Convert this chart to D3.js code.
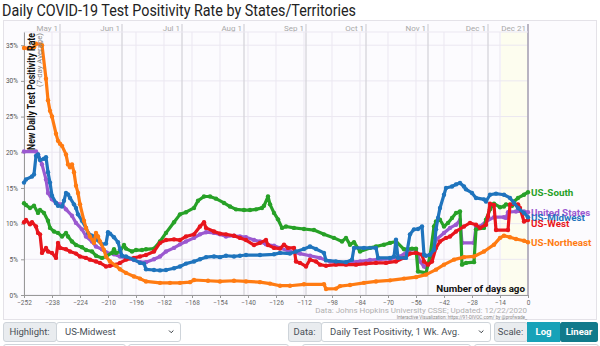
<!DOCTYPE html>
<html><head><meta charset="utf-8">
<script src="https://cdn.jsdelivr.net/npm/d3@7"></script>
<style>
html,body{margin:0;padding:0;background:#fff;}
svg{display:block;font-family:Roboto,"Noto Sans",sans-serif;}
</style></head>
<body><svg id="c" width="600" height="346"></svg>
<script>
// ---- data (days ago, % positivity, 7-day avg) ----
const seriesNames = ["United States","US-South","US-West","US-Midwest","US-Northeast"];
const seriesColors = ["#9b59d0","#27a127","#e8151c","#1f74bd","#ff7b12"];
const xTicks = d3.range(-252, 1, 14);
const yTicks = [0,5,10,15,20,25,30,35];
const monthLabels = ["May 1","Jun 1","Jul 1","Aug 1","Sep 1","Oct 1","Nov 1","Dec 1","Dec 21"];
const monthDays = [-234,-203,-173,-142,-111,-81,-50,-20,0];

const usNortheast = [[-252,34.6],[-249,34.6],[-247,34.7],[-246,35.2],[-244,35.1],[-243,35.0],[-241,30.3],[-240,27.3],[-239,25.8],[-238,25.0],[-236,22.6],[-235,21.6],[-234,21.2],[-233,20.9],[-231,19.7],[-230,18.3],[-229,17.9],[-228,18.3],[-227,17.2],[-226,15.3],[-225,14.3],[-224,12.7],[-222,10.4],[-221,9.4],[-219,8.2],[-217,7.3],[-216,8.7],[-215,8.2],[-214,7.5],[-212,6.3],[-211,5.4],[-209,4.7],[-206,4.1],[-204,3.6],[-201,3.1],[-197,2.6],[-194,2.3],[-191,1.9],[-184,1.7],[-179,1.7],[-174,1.7],[-169,1.8],[-167,2.1],[-160,2.0],[-154,1.9],[-147,2.0],[-141,1.9],[-134,1.8],[-129,1.6],[-124,1.3],[-119,1.3],[-112,1.5],[-102,1.5],[-101,0.85],[-96,0.9],[-94,1.25],[-89,1.4],[-82,1.7],[-76,1.9],[-69,2.05],[-62,2.3],[-56,2.5],[-51,2.85],[-46,3.55],[-42,4.25],[-37,4.95],[-32,5.3],[-27,5.4],[-22,6.1],[-17,7.05],[-14,8.0],[-12,8.3],[-9,8.1],[-6,7.85],[-2,7.6],[0,7.4]];

const unitedStates = [[-252,20.1],[-246,20.1],[-245,19.7],[-243,18.3],[-241,16.2],[-240,14.3],[-238,13.4],[-236,12.9],[-233,12.7],[-231,12.0],[-228,11.1],[-226,10.1],[-223,9.2],[-221,8.2],[-218,7.5],[-216,6.8],[-213,6.4],[-211,6.0],[-207,5.7],[-204,5.4],[-201,5.2],[-197,4.9],[-194,4.6],[-191,4.6],[-187,5.0],[-184,5.4],[-181,6.1],[-177,6.6],[-174,7.1],[-171,7.5],[-167,8.0],[-164,8.5],[-161,8.8],[-157,8.7],[-154,8.5],[-151,8.2],[-147,8.3],[-144,8.2],[-141,8.1],[-137,7.7],[-134,7.5],[-131,7.1],[-127,6.9],[-124,6.6],[-119,6.1],[-114,5.8],[-109,5.5],[-104,5.2],[-99,4.7],[-94,4.5],[-89,4.6],[-84,4.7],[-79,4.9],[-74,5.0],[-69,5.05],[-64,5.4],[-59,6.35],[-56,6.35],[-54,4.7],[-52,4.0],[-51,3.9],[-49,4.7],[-47,6.6],[-46,7.75],[-42,8.7],[-39,9.4],[-36,9.85],[-34,10.5],[-33,7.3],[-27,7.3],[-26,9.6],[-24,9.6],[-21,10.3],[-17,10.9],[-12,10.9],[-11,10.8],[-10,11.6],[-6,11.7],[-2,11.7],[0,11.6]];

const usMidwest = [[-252,15.75],[-251,16.2],[-248,16.6],[-247,16.9],[-246,19.5],[-245,19.7],[-244,18.9],[-242,19.1],[-241,19.3],[-240,17.2],[-239,15.75],[-238,13.9],[-236,12.9],[-235,12.5],[-233,12.4],[-232,13.2],[-231,14.3],[-230,14.1],[-229,13.6],[-227,12.7],[-226,12.2],[-225,11.3],[-223,10.4],[-221,9.4],[-220,8.7],[-218,8.3],[-216,7.8],[-213,7.1],[-211,7.2],[-210,8.8],[-209,8.6],[-207,8.1],[-205,7.4],[-204,6.4],[-203,5.5],[-201,5.4],[-197,4.95],[-194,4.5],[-192,4.4],[-191,3.6],[-187,3.5],[-184,3.45],[-181,3.5],[-177,3.75],[-174,4.0],[-171,4.4],[-167,4.7],[-164,5.0],[-161,5.3],[-157,5.4],[-154,5.3],[-151,5.5],[-147,5.4],[-144,5.5],[-141,5.6],[-134,5.6],[-127,5.7],[-124,5.9],[-119,5.8],[-116,6.1],[-112,6.45],[-109,6.8],[-106,6.45],[-102,5.9],[-101,4.85],[-96,4.7],[-91,4.6],[-88,4.95],[-87,6.6],[-82,6.6],[-76,6.6],[-75,5.2],[-69,5.2],[-67,5.4],[-66,7.75],[-65,5.2],[-61,5.2],[-59,8.5],[-57,9.2],[-55,9.25],[-53,9.6],[-52,5.65],[-51,5.5],[-49,5.65],[-47,6.35],[-46,9.2],[-45,10.8],[-44,12.2],[-42,14.05],[-41,15.0],[-38,15.2],[-36,15.5],[-34,15.7],[-32,15.2],[-31,14.8],[-28,14.3],[-26,13.6],[-22,13.4],[-21,13.1],[-19,14.05],[-16,14.2],[-12,14.05],[-9,13.6],[-7,12.9],[-5,12.2],[-2,11.5],[0,10.9]];

const usSouth = [[-252,12.85],[-251,12.6],[-249,12.2],[-247,12.5],[-245,11.5],[-244,11.9],[-242,11.5],[-240,10.4],[-239,9.4],[-237,8.9],[-235,8.7],[-233,8.2],[-231,8.7],[-230,8.2],[-228,7.5],[-226,7.0],[-223,6.7],[-221,6.3],[-218,6.1],[-216,5.5],[-213,5.2],[-211,5.4],[-208,5.9],[-207,6.4],[-206,5.9],[-204,6.1],[-202,7.0],[-201,6.5],[-198,6.1],[-196,6.3],[-193,6.3],[-191,6.4],[-187,6.5],[-184,7.5],[-181,8.7],[-177,10.2],[-174,11.3],[-171,11.6],[-167,12.2],[-165,13.2],[-162,13.8],[-159,13.8],[-156,13.5],[-152,12.9],[-149,12.4],[-146,12.0],[-142,11.9],[-139,11.9],[-136,12.0],[-133,12.2],[-132,12.5],[-130,13.8],[-129,12.7],[-127,11.5],[-125,10.6],[-123,9.4],[-121,9.6],[-117,9.4],[-112,9.25],[-107,9.1],[-102,8.5],[-97,8.0],[-93,7.5],[-91,8.0],[-89,7.05],[-87,7.4],[-84,6.1],[-79,6.6],[-76,6.8],[-72,7.05],[-69,7.3],[-66,7.5],[-62,6.4],[-58,6.5],[-56,6.5],[-55,3.3],[-51,3.1],[-49,5.4],[-47,9.6],[-46,10.3],[-44,10.55],[-42,9.6],[-40,10.1],[-38,10.8],[-36,11.5],[-34,11.7],[-33,4.25],[-31,4.5],[-27,4.6],[-26,9.2],[-22,9.4],[-21,10.55],[-19,12.0],[-17,12.8],[-14,12.3],[-12,12.4],[-11,12.7],[-8,12.5],[-7,13.1],[-5,13.6],[-2,14.05],[0,14.4]];

const usWest = [[-252,10.2],[-251,10.5],[-249,9.9],[-248,10.2],[-246,9.6],[-245,8.7],[-244,8.5],[-243,5.9],[-241,6.6],[-240,6.1],[-238,5.9],[-236,5.2],[-235,7.3],[-234,6.6],[-231,6.4],[-229,6.1],[-226,5.8],[-224,5.4],[-221,5.2],[-219,4.95],[-216,4.7],[-214,4.5],[-211,4.0],[-209,4.1],[-206,4.25],[-204,4.5],[-201,4.95],[-197,5.2],[-194,5.4],[-191,5.6],[-187,6.1],[-184,7.3],[-181,7.7],[-177,7.8],[-174,7.7],[-171,8.2],[-167,8.5],[-164,9.6],[-162,10.2],[-161,9.4],[-157,8.9],[-154,8.6],[-151,8.5],[-147,8.3],[-144,8.0],[-141,7.7],[-137,7.0],[-134,7.3],[-131,7.7],[-130,7.0],[-127,6.6],[-124,6.5],[-122,7.05],[-120,6.6],[-117,6.6],[-116,4.7],[-114,4.5],[-111,4.0],[-109,4.95],[-106,4.7],[-104,4.25],[-101,4.1],[-96,4.25],[-91,4.25],[-86,4.25],[-81,4.4],[-76,4.5],[-71,4.5],[-66,4.7],[-62,5.2],[-59,5.8],[-56,5.9],[-53,5.65],[-52,4.7],[-50,4.25],[-48,4.7],[-46,6.6],[-44,7.5],[-41,8.0],[-39,8.2],[-36,8.9],[-32,9.6],[-29,10.1],[-26,9.85],[-24,9.4],[-21,9.85],[-20,11.0],[-19,12.8],[-17,12.6],[-16,9.1],[-10,9.1],[-9,12.7],[-5,12.7],[-4,12.2],[-2,10.3],[0,10.5]];

const seriesData = [unitedStates, usSouth, usWest, usMidwest, usNortheast];

// ---- drawing ----
const svg = d3.select("#c");
const X0 = 24, X1 = 528, YTOP = 32, YBOT = 295;
const x = d3.scaleLinear().domain([-252, 0]).range([X0, X1]);
const y = d3.scaleLinear().domain([0, 36.85]).range([YBOT, YTOP]);

svg.append("text").attr("x", 2).attr("y", 15.5).attr("font-size", 16.5).attr("fill", "#222")
  .attr("textLength", 354).attr("lengthAdjust", "spacingAndGlyphs")
  .text("Daily COVID-19 Test Positivity Rate by States/Territories");

svg.append("rect").attr("x", 3.5).attr("y", 20.5).attr("width", 593).attr("height", 299)
  .attr("fill", "#fcfbfe").attr("stroke", "#e4e2e8");

// recent-days shading
svg.append("rect").attr("x", x(-13.5)).attr("y", YTOP).attr("width", x(0) - x(-13.5)).attr("height", YBOT - YTOP)
  .attr("fill", "#fdfdef");

// grid
const g = svg.append("g");
g.selectAll("line.vg").data(xTicks).join("line")
  .attr("x1", d => x(d)).attr("x2", d => x(d)).attr("y1", YTOP).attr("y2", YBOT)
  .attr("stroke", "#ebe7f1").attr("stroke-width", 1);
g.selectAll("line.hg").data(yTicks).join("line")
  .attr("x1", X0).attr("x2", X1).attr("y1", d => y(d)).attr("y2", d => y(d))
  .attr("stroke", "#ebe7f1").attr("stroke-width", 1);
svg.append("line").attr("x1", X0).attr("x2", X1).attr("y1", YTOP).attr("y2", YTOP).attr("stroke", "#ebe7f1");

// month lines
g.selectAll("line.mo").data(monthDays).join("line")
  .attr("x1", d => x(d)).attr("x2", d => x(d)).attr("y1", 24).attr("y2", YBOT)
  .attr("stroke", (d) => d === 0 ? "#a9a4b4" : "#d6d4da").attr("stroke-width", (d) => d === 0 ? 1.6 : 1.3);
g.selectAll("text.mo").data(monthDays).join("text")
  .attr("x", d => x(d) - 2).attr("y", 30.5).attr("text-anchor", "end")
  .attr("font-size", 8).attr("fill", "#a8a8a8").text((d, i) => monthLabels[i]);

// axes
const yAxis = d3.axisLeft(y).tickValues(yTicks).tickFormat(d => d + "%").tickSize(3).tickSizeOuter(0);
const ya = svg.append("g").attr("transform", `translate(${X0},0)`).call(yAxis);
ya.select(".domain").attr("stroke", "#999");
ya.selectAll(".tick line").attr("stroke", "#999");
ya.selectAll("text").attr("font-size", 6.5).attr("fill", "#555").attr("font-family", "Roboto, sans-serif");

const xAxis = d3.axisBottom(x).tickValues(xTicks).tickSize(3).tickSizeOuter(0);
const xa = svg.append("g").attr("transform", `translate(0,${YBOT})`).call(xAxis);
xa.select(".domain").attr("stroke", "#999");
xa.selectAll(".tick line").attr("stroke", "#999");
xa.selectAll("text").attr("font-size", 6.5).attr("fill", "#666").attr("font-family", "Roboto, sans-serif").attr("dy", "0.55em");

// series
const line = d3.line().x(d => x(d[0])).y(d => y(d[1]));
seriesData.forEach((s, i) => {
  const sg = svg.append("g");
  sg.append("path").datum(s).attr("d", line).attr("fill", "none")
    .attr("stroke", seriesColors[i]).attr("stroke-width", 3.2).attr("stroke-linejoin", "round");
  sg.selectAll("circle").data(s).join("circle")
    .attr("cx", d => x(d[0])).attr("cy", d => y(d[1])).attr("r", 2.2).attr("fill", seriesColors[i]);
});

// axis titles (on top of series)
svg.append("text").attr("transform", "translate(34.5,33) rotate(-90)").attr("text-anchor", "end")
  .attr("font-size", 10).attr("font-weight", "bold").attr("fill", "#111")
  .attr("textLength", 117).attr("lengthAdjust", "spacingAndGlyphs").text("New Daily Test Positivity Rate");
svg.append("text").attr("transform", "translate(41.5,33) rotate(-90)").attr("text-anchor", "end")
  .attr("font-size", 7.2).attr("fill", "#888")
  .attr("textLength", 54).attr("lengthAdjust", "spacingAndGlyphs").text("(7-day Average)");
svg.append("text").attr("x", 525).attr("y", 292).attr("text-anchor", "end")
  .attr("font-size", 9.8).attr("font-weight", "bold").attr("fill", "#111").text("Number of days ago");

// end labels with simple collision avoidance
const labels = seriesNames.map((n, i) => ({ name: n, color: seriesColors[i], y: y(seriesData[i][seriesData[i].length - 1][1]) }))
  .sort((a, b) => a.y - b.y);
for (let i = 1; i < labels.length; i++) if (labels[i].y - labels[i - 1].y < 5.5) labels[i].y = labels[i - 1].y + 5.5;
svg.selectAll("text.lbl").data(labels).join("text")
  .attr("x", 531).attr("y", d => d.y).attr("dy", "0.35em")
  .attr("font-size", 9.8).attr("font-weight", "bold").attr("fill", d => d.color).text(d => d.name);

// source
svg.append("text").attr("x", 527).attr("y", 312.5).attr("text-anchor", "end")
  .attr("font-size", 8).attr("fill", "#b0b0b0").text("Data: Johns Hopkins University CSSE; Updated: 12/22/2020");
svg.append("text").attr("x", 527).attr("y", 318.5).attr("text-anchor", "end")
  .attr("font-size", 4.6).attr("fill", "#888").text("Interactive Visualization: https://91-DIVOC.com/ by @profwade_");

// controls
const ctl = svg.append("g").attr("font-size", 9.5);
function labelBox(x0, w, txt) {
  ctl.append("rect").attr("x", x0 + 0.5).attr("y", 322.5).attr("width", w).attr("height", 19).attr("rx", 2.5)
    .attr("fill", "#e9ecef").attr("stroke", "#ced4da");
  ctl.append("text").attr("x", x0 + w / 2).attr("y", 335).attr("text-anchor", "middle").attr("fill", "#495057").text(txt);
}
function selectBox(x0, w, txt) {
  ctl.append("rect").attr("x", x0 + 0.5).attr("y", 322.5).attr("width", w).attr("height", 19).attr("rx", 2.5)
    .attr("fill", "#fff").attr("stroke", "#ced4da");
  ctl.append("text").attr("x", x0 + 9).attr("y", 335).attr("fill", "#495057").text(txt);
  ctl.append("path").attr("d", `M${x0 + w - 11},330.5 l2.2,2.2 l2.2,-2.2`).attr("fill", "none").attr("stroke", "#343a40").attr("stroke-width", 1);
}
labelBox(3, 53, "Highlight:");
selectBox(56, 124, "US-Midwest");
labelBox(288, 33, "Data:");
selectBox(321, 169, "Daily Test Positivity, 1 Wk. Avg.");
labelBox(494, 33, "Scale:");
ctl.append("rect").attr("x", 527).attr("y", 322).attr("width", 33).attr("height", 20).attr("fill", "#17a2b8");
ctl.append("text").attr("x", 543.5).attr("y", 335).attr("text-anchor", "middle").attr("fill", "#fff").attr("font-weight", "bold").text("Log");
ctl.append("rect").attr("x", 560).attr("y", 322).attr("width", 38).attr("height", 20).attr("rx", 2.5).attr("fill", "#117a8b");
ctl.append("text").attr("x", 579).attr("y", 335).attr("text-anchor", "middle").attr("fill", "#fff").attr("font-weight", "bold").text("Linear");
// next row (partially visible)
[[3,122],[128,160],[302,168],[474,124]].forEach(r => {
  ctl.append("rect").attr("x", r[0] + 0.5).attr("y", 344.5).attr("width", r[1]).attr("height", 12).attr("rx", 2.5)
    .attr("fill", "#fff").attr("stroke", "#ced4da");
});
</script></body></html>
